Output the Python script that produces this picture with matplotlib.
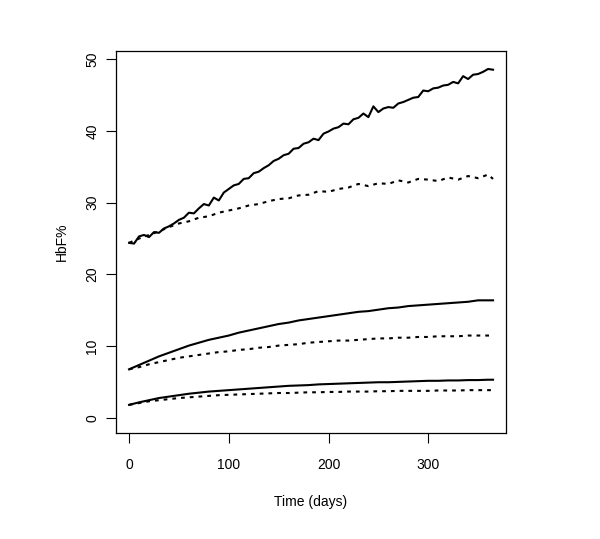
import matplotlib
matplotlib.use("Agg")
import matplotlib.pyplot as plt

plt.rcParams['font.family'] = ['Liberation Sans', 'DejaVu Sans']

# days sampled every 5 for the top solid curve, every 10 for the rest
days5 = list(range(0, 366, 5))
days10 = list(range(0, 361, 10)) + [365]

high_solid = [24.4, 24.3, 25.3, 25.5, 25.2, 25.9, 25.8, 26.4, 26.7, 27.1,
              27.6, 27.9, 28.6, 28.5, 29.2, 29.8, 29.6, 30.7, 30.3, 31.4,
              31.9, 32.4, 32.6, 33.3, 33.4, 34.1, 34.3, 34.8, 35.2, 35.8,
              36.1, 36.6, 36.8, 37.5, 37.6, 38.2, 38.4, 38.9, 38.7, 39.6,
              39.9, 40.3, 40.5, 41.0, 40.9, 41.6, 41.8, 42.4, 41.9, 43.4,
              42.6, 43.1, 43.3, 43.2, 43.8, 44.0, 44.3, 44.6, 44.7, 45.6,
              45.5, 45.9, 46.0, 46.3, 46.4, 46.8, 46.6, 47.6, 47.2, 47.8,
              47.9, 48.2, 48.6, 48.5]
high_dotted = [24.4, 25.0, 25.5, 26.0, 26.6, 27.1, 27.4, 27.9, 28.1, 28.6,
               28.9, 29.2, 29.6, 29.8, 30.2, 30.5, 30.6, 31.0, 31.1, 31.6,
               31.5, 31.9, 32.1, 32.6, 32.3, 32.7, 32.6, 33.1, 32.8, 33.3,
               33.2, 33.0, 33.5, 33.2, 33.7, 33.4, 33.9, 33.3]

mid_solid = [6.8, 7.4, 8.0, 8.6, 9.1, 9.6, 10.1, 10.5, 10.9, 11.2,
             11.5, 11.9, 12.2, 12.5, 12.8, 13.1, 13.3, 13.6, 13.8, 14.0,
             14.2, 14.4, 14.6, 14.8, 14.9, 15.1, 15.3, 15.4, 15.6, 15.7,
             15.8, 15.9, 16.0, 16.1, 16.2, 16.4, 16.4, 16.4]
mid_dotted = [6.8, 7.1, 7.5, 7.8, 8.1, 8.4, 8.6, 8.8, 9.0, 9.2,
              9.3, 9.5, 9.6, 9.8, 9.9, 10.1, 10.2, 10.3, 10.5, 10.6,
              10.7, 10.8, 10.8, 10.9, 11.0, 11.1, 11.1, 11.2, 11.2, 11.3,
              11.3, 11.4, 11.4, 11.4, 11.5, 11.5, 11.5, 11.5]

low_solid = [1.85, 2.2, 2.5, 2.8, 3.0, 3.2, 3.4, 3.55, 3.7, 3.8,
             3.9, 4.0, 4.1, 4.2, 4.3, 4.4, 4.5, 4.55, 4.6, 4.7,
             4.75, 4.8, 4.85, 4.9, 4.95, 5.0, 5.0, 5.05, 5.1, 5.15,
             5.2, 5.2, 5.25, 5.25, 5.3, 5.3, 5.35, 5.35]
low_dotted = [1.85, 2.1, 2.35, 2.5, 2.65, 2.8, 2.9, 3.0, 3.1, 3.2,
              3.25, 3.3, 3.35, 3.4, 3.45, 3.5, 3.5, 3.55, 3.6, 3.6,
              3.65, 3.65, 3.7, 3.7, 3.7, 3.75, 3.75, 3.8, 3.8, 3.8,
              3.8, 3.85, 3.85, 3.85, 3.9, 3.9, 3.9, 3.9]

fig = plt.figure(figsize=(6.0, 5.39), dpi=100)
ax = fig.add_axes([0.193, 0.197, 0.650, 0.709])

dots = (0, (1.8, 2.4))
ax.plot(days5, high_solid, color='black', lw=1.5)
ax.plot(days10, high_dotted, color='black', lw=1.5, linestyle=dots)
ax.plot(days10, mid_solid, color='black', lw=1.5)
ax.plot(days10, mid_dotted, color='black', lw=1.5, linestyle=dots)
ax.plot(days10, low_solid, color='black', lw=1.5)
ax.plot(days10, low_dotted, color='black', lw=1.5, linestyle=dots)

ax.set_xlim(-13.3, 377.8)
ax.set_ylim(-2.04, 51.15)
ax.set_xticks([0, 100, 200, 300])
ax.set_yticks([0, 10, 20, 30, 40, 50])

ax.tick_params(direction='out', length=7, width=0.8, labelsize=10, pad=5)
ax.tick_params(axis='x', pad=11)
for lab in ax.get_yticklabels():
    lab.set_rotation(90)
    lab.set_va('center')
for s in ax.spines.values():
    s.set_linewidth(0.9)

ax.set_xlabel("Time (days)", fontsize=10, labelpad=17)
ax.set_ylabel("HbF%", fontsize=10, labelpad=12)

fig.savefig('out.png', dpi=100)
